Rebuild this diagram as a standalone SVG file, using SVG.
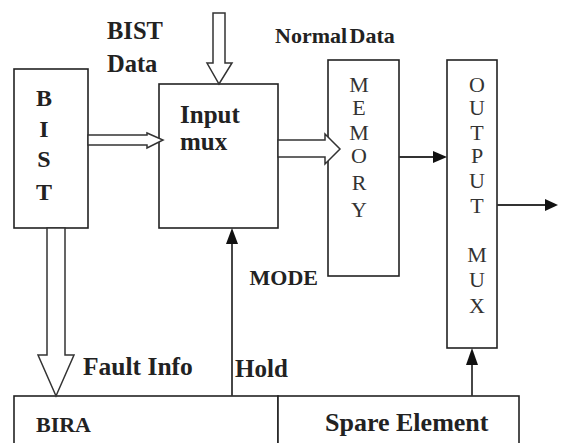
<svg xmlns="http://www.w3.org/2000/svg" width="561" height="443" viewBox="0 0 561 443">
<style>
.box{fill:#fff;stroke:#222;stroke-width:1.6}
.hollow{fill:#fff;stroke:#333;stroke-width:1.5;stroke-linejoin:miter}
.line{stroke:#333;stroke-width:1.8;fill:none}
.head{fill:#111}
.lb{font-weight:bold;fill:#222}
.lr{fill:#333}
</style>
<rect width="561" height="443" fill="#fff"/>
<g font-family="'Liberation Serif', 'Times New Roman', 'DejaVu Serif', serif">
<g id="bist">
<rect class="box" x="14" y="69" width="74" height="159"/>
<g class="lb" font-size="24" text-anchor="middle">
<text x="44" y="106">B</text>
<text x="44" y="137">I</text>
<text x="44" y="167">S</text>
<text x="44" y="200">T</text>
</g>
</g>
<g id="input-mux">
<rect class="box" x="159" y="84" width="119" height="144"/>
<text class="lb" font-size="25" x="180" y="123">Input</text>
<text class="lb" font-size="25" x="180" y="150">mux</text>
</g>
<g id="memory">
<rect class="box" x="328" y="60" width="71" height="216"/>
<g class="lr" font-size="22" text-anchor="middle">
<text x="359" y="92">M</text>
<text x="359" y="115">E</text>
<text x="359" y="140">M</text>
<text x="359" y="163">O</text>
<text x="359" y="190">R</text>
<text x="359" y="217">Y</text>
</g>
</g>
<g id="output-mux">
<rect class="box" x="447" y="60" width="50" height="288"/>
<g class="lr" font-size="22" text-anchor="middle">
<text x="477" y="92">O</text>
<text x="477" y="115">U</text>
<text x="477" y="140">T</text>
<text x="477" y="163">P</text>
<text x="477" y="188">U</text>
<text x="477" y="213">T</text>
<text x="477" y="262">M</text>
<text x="477" y="287">U</text>
<text x="477" y="313">X</text>
</g>
</g>
<g id="bira">
<rect class="box" x="14" y="396" width="264" height="60"/>
<text class="lb" font-size="22" x="36" y="432">BIRA</text>
</g>
<g id="spare-element">
<rect class="box" x="278" y="396" width="241" height="60"/>
<text class="lb" font-size="26" x="325" y="431">Spare Element</text>
</g>
<g id="connectors">
<polygon class="hollow" points="213,13 225,13 225,63 232,63 219,84 207,63 213,63"/>
<polygon class="hollow" points="88,135 147,135 147,133 163,140 147,148 147,145 88,145"/>
<polygon class="hollow" points="278,140 325,140 325,134 340,149 325,164 325,157 278,157"/>
<polygon class="hollow" points="47,228 65,228 65,355 74,355 56,396 38,355 47,355"/>
<line class="line" x1="232" y1="396" x2="232" y2="242"/>
<polygon class="head" points="232,228 226,244 238,244"/>
<line class="line" x1="472" y1="396" x2="472" y2="363"/>
<polygon class="head" points="472,348 466,365 478,365"/>
<line class="line" x1="399" y1="157" x2="435" y2="157"/>
<polygon class="head" points="447,157 433,151 433,163"/>
<line class="line" x1="497" y1="205" x2="547" y2="205"/>
<polygon class="head" points="558,205 545,199 545,211"/>
</g>
<g id="labels">
<text class="lb" font-size="24.5" x="107" y="39">BIST</text>
<text class="lb" font-size="24.5" x="107" y="72">Data</text>
<text class="lb" font-size="22" x="275" y="43" word-spacing="-3">Normal Data</text>
<text class="lb" font-size="22" x="318" y="285" text-anchor="end">MODE</text>
<text class="lb" font-size="25" x="235" y="377">Hold</text>
<text class="lb" font-size="25.5" x="83" y="375">Fault Info</text>
</g>
</g>
</svg>
